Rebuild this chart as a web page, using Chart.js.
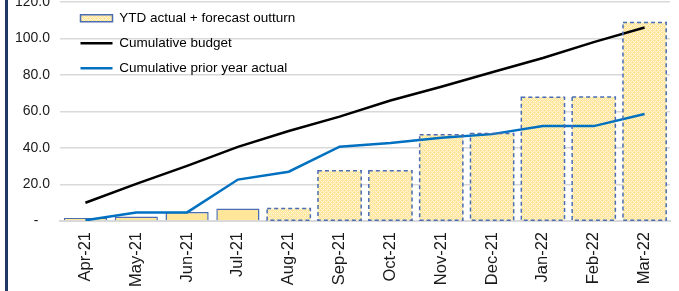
<!DOCTYPE html>
<html>
<head>
<meta charset="utf-8">
<script src="https://cdn.jsdelivr.net/npm/chart.js@4/dist/chart.umd.min.js"></script>
<style>
  html, body { margin: 0; padding: 0; background: #fff; }
  #wrap { position: relative; width: 679px; height: 291px; }
  #edge { position: absolute; left: 5px; top: 0; width: 3px; height: 291px; background: #1f3864; }
</style>
</head>
<body>
<div id="wrap">
  <canvas id="chart" width="679" height="291"></canvas>
  <div id="edge"></div>
</div>
<script>
// values
const months = ['Apr-21', 'May-21', 'Jun-21', 'Jul-21', 'Aug-21', 'Sep-21',
  'Oct-21', 'Nov-21', 'Dec-21', 'Jan-22', 'Feb-22', 'Mar-22'];
const ytdOutturn = [1.7, 2.5, 5.0, 6.9, 6.9, 27.5, 27.5, 47.3, 48.0, 67.8, 68.0, 108.8];
const isForecast = [false, false, false, false, true, true, true, true, true, true, true, true];
const cumulativeBudget = [10.0, 20.3, 30.2, 40.6, 49.3, 57.2, 66.0, 73.6, 81.5, 89.3, 98.0, 106.0];
const priorYear = [0.4, 4.6, 4.7, 22.7, 27.0, 40.7, 42.8, 45.6, 47.6, 52.0, 52.0, 58.6];
const yTicks = [0, 20, 40, 60, 80, 100, 120];

const YELLOW = '#ffe699';
const BAR_EDGE = '#4a6db3';

/**
 * Small yellow tile with a white diamond lattice, used for forecast bars.
 */
function makePattern() {
  const tile = document.createElement('canvas');
  tile.width = 4;
  tile.height = 4;
  const t = tile.getContext('2d');
  t.fillStyle = YELLOW;
  t.fillRect(0, 0, 4, 4);
  t.fillStyle = 'rgba(255,255,255,0.6)';
  for (let x = 0; x < 4; x++) {
    for (let y = 0; y < 4; y++) {
      if ((x + y) % 4 === 0 || (x - y + 4) % 4 === 0) t.fillRect(x, y, 1, 1);
    }
  }
  return t.createPattern(tile, 'repeat');
}

const ctx = document.getElementById('chart').getContext('2d');
const pattern = makePattern();

// forecast bars get a dashed outline instead of the solid one
const dashedOutline = {
  id: 'dashedOutline',
  afterDatasetsDraw(chart) {
    const meta = chart.getDatasetMeta(0);
    const c = chart.ctx;
    c.save();
    c.strokeStyle = BAR_EDGE;
    c.lineWidth = 1.5;
    c.setLineDash([4, 3]);
    meta.data.forEach((bar, i) => {
      if (!isForecast[i]) return;
      const p = bar.getProps(['x', 'y', 'base', 'width'], true);
      c.strokeRect(p.x - p.width / 2, p.y, p.width, p.base - p.y);
    });
    c.restore();
  }
};

// push the in-plot legend a little to the right, as in the original
const legendShift = {
  id: 'legendShift',
  afterLayout(chart) {
    chart.legend.left += 9;
  }
};

Chart.defaults.font.family = "'Liberation Sans', Arial, sans-serif";
Chart.defaults.color = '#1a1a1a';

new Chart(ctx, {
  plugins: [dashedOutline, legendShift],
  data: {
    labels: months,
    datasets: [
      {
        type: 'bar',
        label: 'YTD actual + forecast outturn',
        data: ytdOutturn,
        backgroundColor: c => (isForecast[c.dataIndex] ? pattern : YELLOW),
        borderColor: BAR_EDGE,
        borderWidth: c => (isForecast[c.dataIndex] ? 0 : 1.5),
        barPercentage: 0.85,
        categoryPercentage: 1,
        order: 3
      },
      {
        type: 'line',
        label: 'Cumulative budget',
        data: cumulativeBudget,
        borderColor: '#000000',
        backgroundColor: '#000000',
        borderWidth: 2.5,
        pointRadius: 0,
        tension: 0,
        order: 1
      },
      {
        type: 'line',
        label: 'Cumulative prior year actual',
        data: priorYear,
        borderColor: '#0070c0',
        backgroundColor: '#0070c0',
        borderWidth: 2.5,
        pointRadius: 0,
        tension: 0,
        order: 2
      }
    ]
  },
  options: {
    responsive: false,
    animation: false,
    layout: { padding: { top: 2, right: 9, left: 15, bottom: 0 } },
    plugins: {
      tooltip: { enabled: false },
      legend: {
        position: 'chartArea',
        align: 'start',
        labels: {
          usePointStyle: true,
          pointStyleWidth: 32,
          boxWidth: 32,
          boxHeight: 7,
          padding: 11.5,
          color: '#1a1a1a',
          font: { size: 13.5 },
          generateLabels: chart => chart.data.datasets.map((ds, i) => ({
            text: ds.label,
            datasetIndex: i,
            fillStyle: i === 0 ? pattern : ds.borderColor,
            strokeStyle: ds.borderColor,
            lineWidth: i === 0 ? 1.5 : 2.5,
            pointStyle: i === 0 ? 'rect' : 'line',
            hidden: false
          }))
        }
      }
    },
    scales: {
      x: {
        grid: { display: false, drawTicks: false },
        border: { display: true, color: '#d9d9d9', width: 2 },
        afterFit: scale => {
          scale.height = 70;
          scale.paddingLeft = 0;
          scale.paddingRight = 0;
        },
        ticks: {
          minRotation: 90,
          maxRotation: 90,
          padding: 11,
          color: '#1a1a1a',
          font: { size: 16.5 }
        }
      },
      y: {
        min: 0,
        max: 120,
        afterBuildTicks: scale => {
          scale.ticks = yTicks.map(v => ({ value: v }));
        },
        afterFit: scale => {
          scale.paddingTop = 0;
          scale.width = 45;
        },
        grid: { color: '#d9d9d9', lineWidth: 1.5, drawTicks: false },
        border: { display: false },
        ticks: {
          padding: 10,
          color: '#1a1a1a',
          font: { size: 14 },
          callback: v => (v === 0 ? '-   ' : v.toFixed(1))
        }
      }
    }
  }
});
</script>
</body>
</html>
